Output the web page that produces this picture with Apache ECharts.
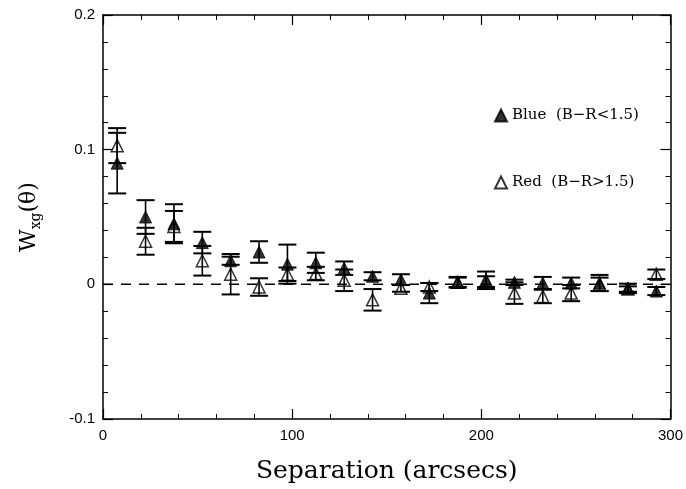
<!DOCTYPE html>
<html><head><meta charset="utf-8">
<script src="https://cdn.jsdelivr.net/npm/echarts@6/dist/echarts.min.js"></script>
<style>html,body{margin:0;padding:0;background:#fff}#c{width:686px;height:489px}</style>
</head><body><div id="c"></div>
<script>
var separation = [7.5, 22.5, 37.5, 52.5, 67.5, 82.5, 97.5, 112.5, 127.5, 142.5, 157.5, 172.5, 187.5, 202.5, 217.5, 232.5, 247.5, 262.5, 277.5, 292.5];
var blueW   = [0.090, 0.050, 0.045, 0.031, 0.0175, 0.024, 0.015, 0.016, 0.012, 0.006, 0.0035, -0.0065, 0.0015, 0.002, 0.0015, 0.001, 0.001, 0.001, -0.003, -0.005];
var blueErr = [0.0225, 0.0125, 0.0145, 0.008, 0.003, 0.008, 0.0145, 0.0075, 0.005, 0.003, 0.004, 0.0075, 0.004, 0.004, 0.002, 0.0045, 0.004, 0.006, 0.0035, 0.003];
var redW    = [0.103, 0.032, 0.043, 0.0175, 0.0075, -0.002, 0.0075, 0.008, 0.003, -0.0115, -0.003, -0.002, 0.0015, 0.003, -0.0065, -0.009, -0.0065, 0.0, -0.0035, 0.0075];
var redErr  = [0.013, 0.010, 0.0115, 0.011, 0.015, 0.0065, 0.005, 0.005, 0.008, 0.008, 0.0025, 0.003, 0.0035, 0.0065, 0.008, 0.005, 0.006, 0.005, 0.002, 0.0035];
var zeroLineX = [0, 300];
var xTicks = [0, 100, 200, 300];
var yTicks = [-0.1, 0, 0.1, 0.2];
var blueName = 'Blue  (B\u2212R<1.5)';
var redName = 'Red  (B\u2212R>1.5)';

function pts(w){ return separation.map(function(x,i){ return [x, w[i]]; }); }
function errs(w,e){ return separation.map(function(x,i){ return [x, w[i], e[i]]; }); }

function errRender(params, api){
  var x = api.value(0), y = api.value(1), e = api.value(2);
  var t = api.coord([x, y + e]), b = api.coord([x, y - e]);
  var hw = 9;
  var st = {stroke:'#000', lineWidth:1.6};
  return {type:'group', children:[
    {type:'line', shape:{x1:t[0],y1:t[1],x2:b[0],y2:b[1]}, style:st},
    {type:'line', shape:{x1:t[0]-hw,y1:t[1],x2:t[0]+hw,y2:t[1]}, style:{stroke:'#000',lineWidth:2}},
    {type:'line', shape:{x1:b[0]-hw,y1:b[1],x2:b[0]+hw,y2:b[1]}, style:{stroke:'#000',lineWidth:2}}
  ]};
}

function axisCommon(){
  return {
    axisLine:{show:true, onZero:false, lineStyle:{color:'#000', width:1.5}},
    axisTick:{show:true, inside:true, length:10, lineStyle:{color:'#000', width:1.2}},
    minorTick:{show:true, splitNumber:5, length:5, lineStyle:{color:'#000', width:1}},
    splitLine:{show:false}
  };
}
var tickFont = {color:'#000', fontFamily:'Liberation Sans', fontSize:15};

var chart = echarts.init(document.getElementById('c'), null, {renderer:'canvas'});
chart.setOption({
  animation:false,
  backgroundColor:'#fff',
  grid:{left:103, right:14, top:15, bottom:62},
  legend:{
    orient:'vertical', left:489, top:103, itemGap:52, itemWidth:12, itemHeight:12,
    data:[{name:blueName, icon:'triangle'}, {name:redName, icon:'triangle'}],
    textStyle:{color:'#000', fontFamily:'DejaVu Serif', fontSize:15}
  },
  xAxis:[
    Object.assign({type:'value', min:0, max:300, interval:100, position:'bottom',
      name:'Separation (arcsecs)', nameLocation:'middle', nameGap:40,
      nameTextStyle:{color:'#000', fontFamily:'DejaVu Serif', fontSize:25},
      axisLabel:Object.assign({margin:9, formatter:function(v){return String(v);}}, tickFont)}, axisCommon()),
    Object.assign({type:'value', min:0, max:300, interval:100, position:'top', axisLabel:{show:false}}, axisCommon())
  ],
  yAxis:[
    Object.assign({type:'value', min:-0.1, max:0.2, interval:0.1, position:'left',
      name:'{w|W}{s|xg}{w|(\u03b8)}', nameLocation:'middle', nameGap:60, nameRotate:90,
      nameTextStyle:{color:'#000', rich:{
        w:{fontFamily:'DejaVu Serif', fontSize:22, color:'#000'},
        s:{fontFamily:'DejaVu Serif', fontSize:14, color:'#000', padding:[14,0,0,0]}
      }},
      axisLabel:Object.assign({margin:8, formatter:function(v){ return v===0?'0':(Math.round(v*10)/10).toString(); }}, tickFont)}, axisCommon()),
    Object.assign({type:'value', min:-0.1, max:0.2, interval:0.1, position:'right', axisLabel:{show:false}}, axisCommon())
  ],
  series:[
    {type:'line', data:zeroLineX.map(function(x){return [x,0];}), symbol:'none', silent:true,
     lineStyle:{color:'#000', width:1.5, type:[10,8]}, z:1},
    {type:'custom', name:'blueErr', renderItem:errRender, data:errs(blueW, blueErr), z:2, silent:true},
    {type:'custom', name:'redErr', renderItem:errRender, data:errs(redW, redErr), z:2, silent:true},
    {type:'scatter', name:blueName, data:pts(blueW), symbol:'triangle', symbolSize:12,
     itemStyle:{color:'#000', borderColor:'#000', borderWidth:1}, z:3},
    {type:'scatter', name:redName, data:pts(redW), symbol:'triangle', symbolSize:12,
     itemStyle:{color:'rgba(255,255,255,0)', borderColor:'#000', borderWidth:1.5}, z:3}
  ]
});
</script></body></html>
